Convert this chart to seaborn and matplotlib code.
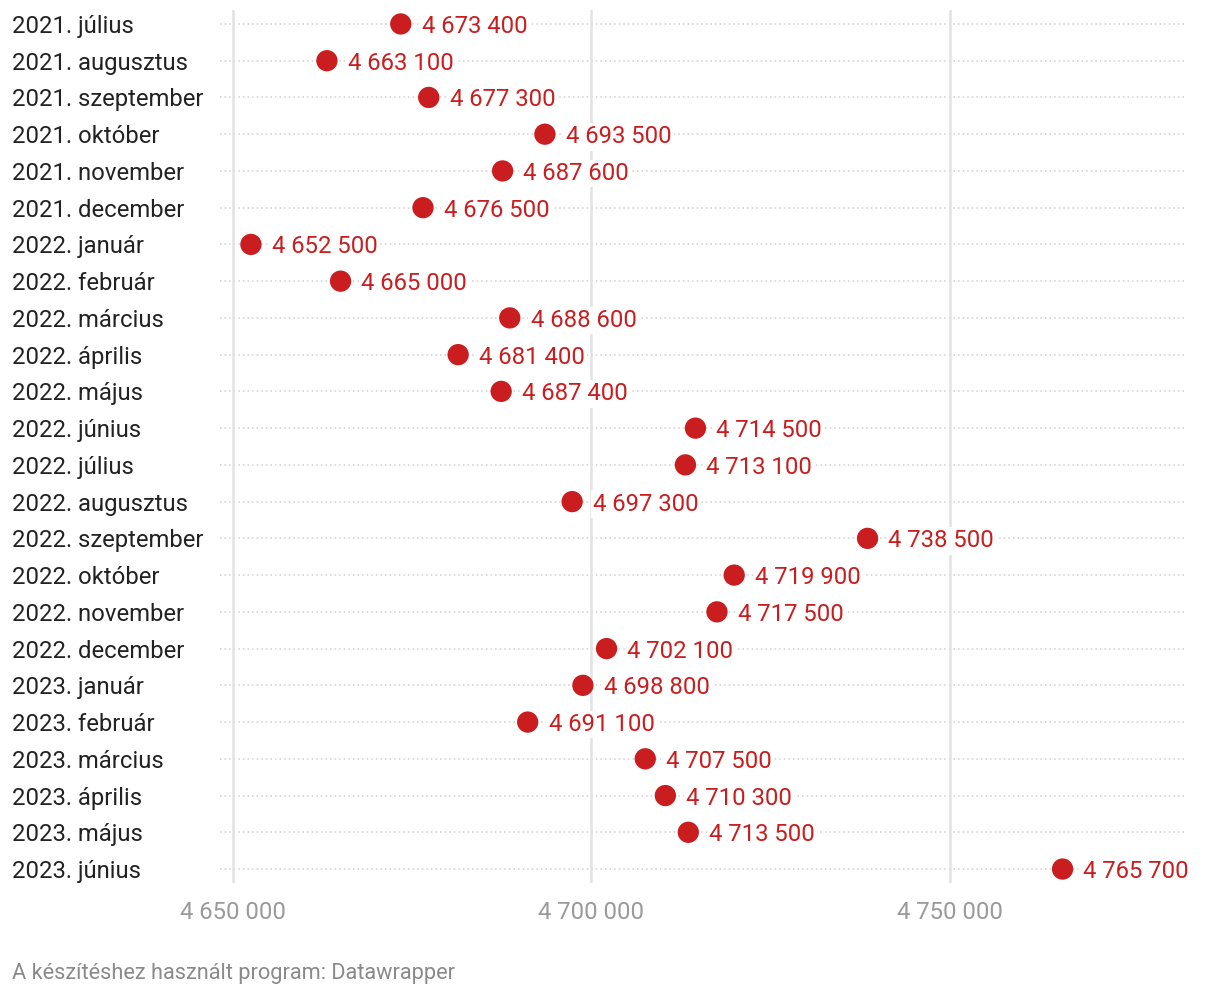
import pandas as pd
import matplotlib.pyplot as plt
import seaborn as sns

# adatok
months = ["2021. július", "2021. augusztus", "2021. szeptember", "2021. október",
          "2021. november", "2021. december", "2022. január", "2022. február",
          "2022. március", "2022. április", "2022. május", "2022. június",
          "2022. július", "2022. augusztus", "2022. szeptember", "2022. október",
          "2022. november", "2022. december", "2023. január", "2023. február",
          "2023. március", "2023. április", "2023. május", "2023. június"]
values = [4673400, 4663100, 4677300, 4693500, 4687600, 4676500, 4652500, 4665000,
          4688600, 4681400, 4687400, 4714500, 4713100, 4697300, 4738500, 4719900,
          4717500, 4702100, 4698800, 4691100, 4707500, 4710300, 4713500, 4765700]
x_ticks = [4650000, 4700000, 4750000]
footer = "A készítéshez használt program: Datawrapper"

df = pd.DataFrame({"honap": months, "ertek": values})

sns.set_style("white")
plt.rcParams['font.family'] = ['Roboto', 'DejaVu Sans']

red = "#c91d1f"
fig = plt.figure(figsize=(12.2, 9.98), dpi=100)
ax = fig.add_axes([220 / 1220, 1 - 883 / 998, (1186 - 220) / 1220, 873 / 998])

y_pos = list(range(len(months)))
for y in y_pos:
    ax.axhline(y, color="#cfcfcf", lw=1.1, ls=(0, (1, 2)), zorder=0)
for xv in x_ticks:
    ax.axvline(xv, color="#e2e2e2", lw=1.8, zorder=0.5)

sns.scatterplot(data=df, x="ertek", y="honap", ax=ax, color=red, s=235,
                edgecolor="none", zorder=3, legend=False)

for i, row in df.iterrows():
    ax.annotate(f"{row['ertek']:,}".replace(",", " "), (row["ertek"], i),
                xytext=(15, 0), textcoords="offset points", va="center_baseline", ha="left",
                fontsize=17.2, color=red, zorder=4,
                bbox=dict(boxstyle="square,pad=0.1", fc="white", ec="none"))

ax.set_xlim(4648187, 4782915)
ax.set_ylim(len(months) - 0.62, -0.38)
ax.set_xticks(x_ticks)
ax.set_xticklabels([f"{v:,}".replace(",", " ") for v in x_ticks], fontsize=17.2, color="#9a9a9a")
ax.set_yticks(y_pos)
ax.set_yticklabels(months, fontsize=17.2, color="#222222")
for lbl in ax.get_yticklabels():
    lbl.set_horizontalalignment("left")
    lbl.set_verticalalignment("center_baseline")
ax.tick_params(axis="y", length=0, pad=208 * 0.72)
ax.tick_params(axis="x", length=0, pad=13)
ax.set_xlabel("")
ax.set_ylabel("")
for sp in ax.spines.values():
    sp.set_visible(False)

fig.text(12 / 1220, 1 - 974 / 998, footer, fontsize=15.7, color="#8a8a8a", va="center", ha="left")

fig.savefig("out.png", dpi=100)
